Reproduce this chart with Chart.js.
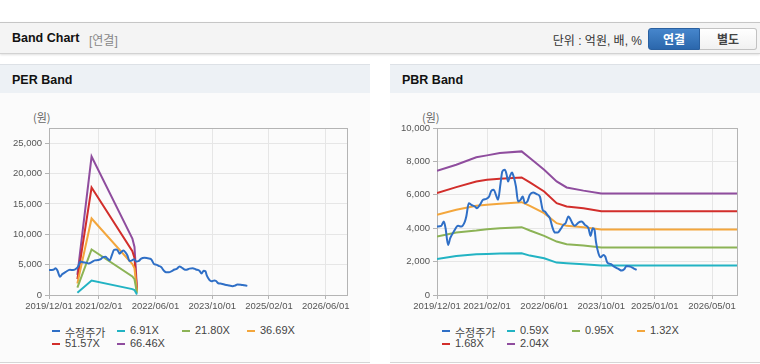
<!DOCTYPE html>
<html>
<head>
<meta charset="utf-8">
<script src="https://cdn.jsdelivr.net/npm/chart.js@4.4.1/dist/chart.umd.min.js"></script>
<style>
  body { margin: 0; width: 760px; height: 364px; background: #fff; position: relative; overflow: hidden;
         font-family: "Liberation Sans", Arial, "Noto Sans CJK KR", sans-serif; color: #333; }
  .topbar { position: absolute; left: 0; top: 22px; width: 760px; height: 30px; background: #f4f4f4;
            border-top: 1px solid #c6c6c6; border-bottom: 1px solid #d2d2d2; box-shadow: 0 1px 2px rgba(0,0,0,0.12); }
  .topbar .title { position: absolute; left: 12px; top: 8px; font-weight: bold; font-size: 12.5px; color: #111; }
  .topbar .sub { position: absolute; left: 89px; top: 8px; font-size: 12px; color: #888; }
  .topbar .unit { position: absolute; right: 118px; top: 8px; font-size: 12px; color: #333; }
  .btn { position: absolute; top: 5px; height: 22px; line-height: 22px; text-align: center; font-size: 12px; font-weight: bold; box-sizing: border-box; }
  .btn.on { left: 648px; width: 52px; background: linear-gradient(#4686cc, #2b67ac); color: #fff; border: 1px solid #2a60a0; border-radius: 3px 0 0 3px; }
  .btn.off { left: 700px; width: 57px; background: linear-gradient(#fff, #f1f1f1); color: #444; border: 1px solid #c2c2c2; border-left: none; border-radius: 0 3px 3px 0; }
  .panel { position: absolute; top: 64px; width: 370px; height: 298px; background: #fbfbfb; border-bottom: 1px solid #d6d6d6; }
  .panel .head { height: 28px; background: #edf1f5; border-top: 1px solid #dde1e6; }
  .panel .head span { position: absolute; left: 12px; top: 9px; font-weight: bold; font-size: 12.5px; color: #111; }
  .panel .unitlbl { position: absolute; top: 45px; font-size: 11px; color: #666; font-family: "Noto Sans CJK KR", sans-serif; }
  .panel canvas { position: absolute; left: 0; top: 36px; }
  .legend { position: absolute; left: 52px; top: 260px; width: 300px; }
  .legend .item { position: absolute; width: 65px; font-size: 11px; color: #444; white-space: nowrap; }
  .legend .item i { position: absolute; left: 0; top: 6px; width: 8px; height: 2px; }
  .legend .item b { position: absolute; left: 13px; top: 0; font-weight: normal; }
</style>
</head>
<body>
<div class="topbar">
  <span class="title">Band Chart</span>
  <span class="sub">[연결]</span>
  <span class="unit">단위 : 억원, 배, %</span>
  <div class="btn on">연결</div>
  <div class="btn off">별도</div>
</div>

<div class="panel" style="left:0">
  <div class="head"><span>PER Band</span></div>
  <div class="unitlbl" style="left:33px">(원)</div>
  <canvas id="perChart" width="370" height="220"></canvas>
  <div class="legend" id="perLegend"></div>
</div>

<div class="panel" style="left:390px">
  <div class="head"><span>PBR Band</span></div>
  <div class="unitlbl" style="left:32px">(원)</div>
  <canvas id="pbrChart" width="370" height="220"></canvas>
  <div class="legend" id="pbrLegend"></div>
</div>

<script>
// adjusted share price (수정주가)
const priceDates = ['2019/12/01','2020/01/07','2020/01/28','2020/02/13','2020/03/04','2020/03/22','2020/04/22','2020/05/28','2020/06/25','2020/07/25',
  '2020/08/07','2020/08/28','2020/09/19','2020/10/19','2020/11/07','2020/12/01','2020/12/28','2021/01/25','2021/02/19','2021/03/07',
  '2021/03/28','2021/04/16','2021/05/04','2021/05/25','2021/06/10','2021/07/01','2021/07/16','2021/07/28','2021/08/13','2021/09/01',
  '2021/09/16','2021/10/04','2021/10/22','2021/11/13','2021/12/01','2021/12/19','2022/01/10','2022/02/01','2022/02/28','2022/03/28',
  '2022/04/25','2022/05/19','2022/06/07','2022/06/28','2022/07/19','2022/08/13','2022/09/01','2022/09/25','2022/10/19','2022/11/13',
  '2022/12/01','2022/12/25','2023/01/07','2023/02/01','2023/02/18','2023/03/19','2023/04/16','2023/05/13','2023/06/13','2023/07/01',
  '2023/07/19','2023/08/04','2023/08/16','2023/09/07','2023/09/25','2023/10/19','2023/11/04','2023/11/22','2023/12/19','2024/01/19',
  '2024/02/25','2024/03/22','2024/04/13','2024/05/04','2024/06/04','2024/07/01','2024/07/28'];
const priceValues = [4100,4140,4400,4000,3000,3400,3800,4140,4100,4400,
  4700,5500,5400,5300,5200,5400,5700,5760,5900,6240,
  6300,6000,5700,6700,7400,7500,7200,6800,7100,7340,
  7060,6500,5600,5700,5900,5500,5600,6000,6140,6040,
  5900,5100,5000,4800,4600,4000,3740,3740,3940,4200,
  4300,4700,4600,4260,4140,4340,4400,4200,4000,3540,
  4000,3900,3200,2500,2260,2400,2300,1940,1860,1700,
  1560,1460,1540,1740,1700,1600,1500];

// PER band
const perLabels = ['6.91X','21.80X','36.69X','51.57X','66.46X'];
const perDates = ['2020/08/01','2020/12/01','2021/11/16','2021/12/04','2021/12/25'];
const per691  = [380, 2370, 970, 830, 100];
const per2180 = [1200, 7500, 3050, 2600, 330];
const per3669 = [1900, 12600, 5100, 4400, 550];
const per5157 = [2600, 17700, 7200, 6100, 770];
const per6646 = [3300, 22800, 9300, 7900, 1000];
const perTicks = ['2019/12/01','2021/02/01','2022/06/01','2023/10/01','2025/02/01','2026/06/01'];

// PBR band
const pbrLabels = ['0.59X','0.95X','1.32X','1.68X','2.04X'];
const pbrDates = ['2019/12/01','2020/05/13','2020/11/01','2021/02/01','2021/05/19','2021/11/22','2022/02/01','2022/06/01',
  '2022/09/16','2022/12/10','2023/05/01','2023/10/01','2026/12/01'];
const pbr059 = [2160,2340,2440,2460,2480,2500,2360,2200,1940,1900,1840,1770,1770];
const pbr095 = [3500,3740,3860,3940,4000,4060,3860,3540,3200,3040,2960,2850,2850];
const pbr132 = [4800,5100,5340,5400,5460,5560,5340,4900,4300,4140,4060,3920,3920];
const pbr168 = [6100,6460,6800,6900,6960,7040,6740,6200,5500,5300,5200,5020,5020];
const pbr204 = [7440,7800,8250,8360,8500,8600,8200,7500,6800,6440,6250,6080,6080];
const pbrTicks = ['2019/12/01','2021/02/01','2022/06/01','2023/10/01','2025/01/01','2026/05/01'];

const axisEnd = '2026/12/01';
const colors = ['#2f6fc6', '#22b3c3', '#8cb356', '#f3a63c', '#d22e2b', '#8f4d9e'];

// months since 2019/12/01
function toMonth(s) {
  const [y, m, d] = s.split('/').map(Number);
  return (y - 2019) * 12 + (m - 12) + (d - 1) / 30;
}
function pts(dates, vals) {
  return dates.map((d, i) => ({ x: toMonth(d), y: vals[i] }));
}

const frame = {
  id: 'frame',
  beforeDatasetsDraw(chart) {
    const a = chart.chartArea, c = chart.ctx;
    c.save();
    c.strokeStyle = '#b4b4b4';
    c.lineWidth = 1;
    c.strokeRect(Math.round(a.left) + 0.5, Math.round(a.top) + 0.5, Math.round(a.right - a.left), Math.round(a.bottom - a.top));
    c.restore();
  }
};

function makeChart(id, legendId, bandDates, bands, bandLabels, ticks, yMax, yStep, plotLeft) {
  const datasets = [{
    label: '수정주가', data: pts(priceDates, priceValues), borderColor: colors[0],
    cubicInterpolationMode: 'monotone'
  }];
  bands.forEach((b, i) => {
    datasets.push({ label: bandLabels[i], data: pts(bandDates, b), borderColor: colors[i + 1] });
  });
  datasets.forEach(d => { d.borderWidth = 2; d.pointRadius = 0; d.fill = false; });

  const tickFont = { family: '"Liberation Sans", Arial, sans-serif', size: 9.5 };
  new Chart(document.getElementById(id), {
    type: 'line',
    data: { datasets },
    options: {
      responsive: false,
      animation: false,
      layout: { padding: { top: 28, right: 23, left: 0, bottom: 0 } },
      plugins: { legend: { display: false }, tooltip: { enabled: false } },
      scales: {
        x: {
          type: 'linear', min: 0, max: toMonth(axisEnd),
          afterBuildTicks: s => { s.ticks = ticks.map(t => ({ value: toMonth(t) })); },
          afterFit: s => { s.height = 25; },
          ticks: { callback: (v, i) => ticks[i], color: '#555', font: tickFont, maxRotation: 0, autoSkip: false, padding: 2 },
          grid: { color: '#e6e6e6', tickColor: '#b4b4b4', tickLength: 4 },
          border: { color: '#b4b4b4' }
        },
        y: {
          min: 0, max: yMax,
          afterBuildTicks: s => {
            const t = [];
            for (let v = 0; v <= yMax; v += yStep) t.push({ value: v });
            s.ticks = t;
          },
          afterFit: s => { s.width = plotLeft; },
          ticks: { callback: v => v.toLocaleString('en-US'), color: '#555', font: tickFont, padding: 3 },
          grid: { color: '#e6e6e6', tickColor: '#b4b4b4', tickLength: 4 },
          border: { color: '#b4b4b4' }
        }
      }
    },
    plugins: [frame]
  });

  // legend in fixed columns
  const box = document.getElementById(legendId);
  datasets.forEach((d, i) => {
    const el = document.createElement('div');
    el.className = 'item';
    el.style.left = (i % 4) * 65 + 'px';
    el.style.top = Math.floor(i / 4) * 13 + 'px';
    el.innerHTML = '<i style="background:' + d.borderColor + '"></i><b>' + d.label + '</b>';
    box.appendChild(el);
  });
}

makeChart('perChart', 'perLegend', perDates, [per691, per2180, per3669, per5157, per6646], perLabels, perTicks, 27500, 5000, 49);
makeChart('pbrChart', 'pbrLegend', pbrDates, [pbr059, pbr095, pbr132, pbr168, pbr204], pbrLabels, pbrTicks, 10000, 2000, 47);
</script>
</body>
</html>
